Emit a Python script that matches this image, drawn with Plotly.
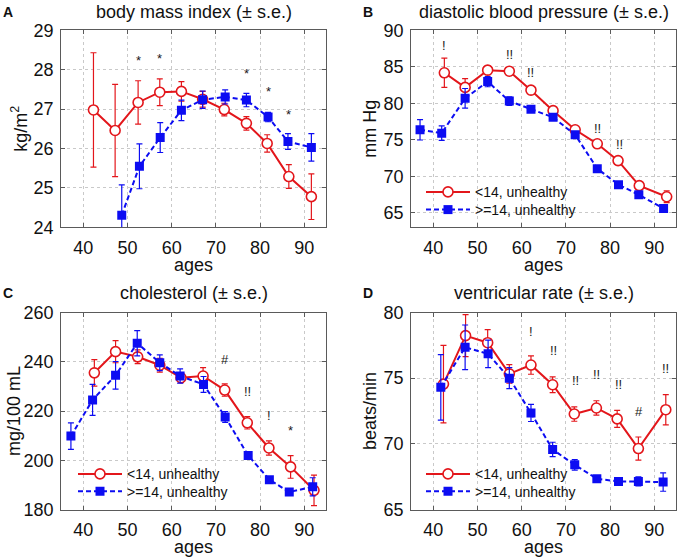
import plotly.graph_objects as go

RED = "#e3161b"
BLUE = "#0c0cf2"
FONT = "Liberation Sans, Arial, sans-serif"

# ---------------- data ----------------
# A: body mass index
bmi_age_lo = [42.3, 47.2, 52.4, 57.3, 62.2, 67.0, 71.9, 76.9, 81.6, 86.5, 91.6]
bmi_lo = [26.98, 26.46, 27.17, 27.43, 27.45, 27.25, 26.99, 26.64, 26.13, 25.29, 24.78]
bmi_lo_se = [1.45, 1.17, 0.55, 0.34, 0.25, 0.20, 0.16, 0.17, 0.22, 0.30, 0.58]
bmi_age_hi = [48.7, 52.7, 57.4, 62.2, 67.0, 72.1, 76.9, 81.8, 86.3, 91.6]
bmi_hi = [24.31, 25.55, 26.28, 26.97, 27.24, 27.31, 27.23, 26.80, 26.18, 26.03]
bmi_hi_se = [0.77, 0.57, 0.38, 0.26, 0.22, 0.18, 0.17, 0.12, 0.20, 0.35]
bmi_sig_x = [52.6, 57.3, 76.9, 81.8, 86.5]
bmi_sig_y = [28.30, 28.36, 27.98, 27.52, 26.94]
bmi_sig = ["*", "*", "*", "*", "*"]

# B: diastolic blood pressure
dbp_age_lo = [42.5, 47.2, 52.3, 57.2, 62.1, 67.1, 72.1, 77.1, 81.8, 86.6, 92.8]
dbp_lo = [84.18, 82.18, 84.54, 84.40, 81.80, 78.99, 76.37, 74.45, 72.15, 68.72, 67.20]
dbp_lo_se = [2.0, 1.2, 0.6, 0.3, 0.3, 0.3, 0.3, 0.3, 0.3, 0.4, 0.8]
dbp_age_hi = [37.0, 41.9, 47.2, 52.3, 57.2, 62.1, 67.1, 72.1, 77.1, 81.9, 86.5, 92.1]
dbp_hi = [76.37, 75.91, 80.68, 82.97, 80.30, 79.20, 78.08, 75.68, 71.05, 68.85, 67.47, 65.60]
dbp_hi_se = [1.4, 1.0, 1.35, 0.7, 0.6, 0.3, 0.3, 0.3, 0.3, 0.3, 0.3, 0.4]
dbp_sig_x = [42.5, 57.2, 62.1, 77.1, 82.1]
dbp_sig_y = [87.97, 86.70, 84.20, 76.60, 74.30]
dbp_sig = ["!", "!!", "!!", "!!", "!!"]

# C: cholesterol
chol_age_lo = [42.5, 47.3, 52.3, 57.3, 62.1, 67.1, 72.0, 77.1, 82.0, 86.9, 92.2]
chol_lo = [235.5, 244.1, 242.0, 238.6, 233.5, 234.2, 228.5, 215.2, 205.0, 197.3, 187.8]
chol_lo_se = [5.4, 4.5, 2.8, 2.8, 2.0, 3.4, 2.5, 2.5, 2.9, 4.6, 6.2]
chol_age_hi = [37.2, 42.1, 47.3, 52.2, 57.3, 61.9, 67.2, 72.1, 77.3, 82.1, 86.6, 91.9]
chol_hi = [209.8, 224.5, 234.5, 247.5, 239.6, 234.2, 230.8, 217.6, 201.9, 192.1, 187.1, 189.2]
chol_hi_se = [5.4, 6.3, 5.6, 5.1, 3.2, 2.9, 3.2, 2.2, 1.2, 1.0, 1.0, 3.7]
chol_sig_x = [72.1, 77.1, 82.1, 86.9]
chol_sig_y = [240.9, 228.1, 218.3, 213.2]
chol_sig = ["#", "!!", "!", "*"]

# D: ventricular rate
vr_age_lo = [42.3, 47.3, 52.3, 57.2, 62.1, 67.0, 71.9, 76.9, 81.6, 86.4, 92.6]
vr_lo = [74.55, 78.24, 77.70, 75.33, 76.00, 74.50, 72.27, 72.73, 71.90, 69.64, 72.60]
vr_lo_se = [2.95, 1.6, 1.0, 0.7, 0.7, 0.6, 0.55, 0.55, 0.65, 0.88, 1.15]
vr_age_hi = [41.7, 47.2, 52.4, 57.2, 62.1, 67.0, 72.0, 77.0, 81.9, 86.4, 92.0]
vr_hi = [74.30, 77.35, 76.85, 75.00, 72.35, 69.57, 68.40, 67.34, 67.14, 67.14, 67.09]
vr_hi_se = [2.5, 1.7, 1.05, 0.8, 0.65, 0.55, 0.4, 0.25, 0.25, 0.35, 0.7]
vr_sig_x = [62.1, 67.1, 72.2, 77.0, 82.0, 86.6, 92.6]
vr_sig_y = [78.58, 77.07, 74.80, 75.25, 74.55, 72.50, 75.70]
vr_sig = ["!", "!!", "!!", "!!", "!!", "#", "!!"]

series_names = ["<14, unhealthy", ">=14, unhealthy"]
x_ticks = [40, 50, 60, 70, 80, 90]

W, H = 679, 559

# legend placement per panel: (left px of line sample, row centre px for each series)
panels = [
    dict(key="A", title="body mass index (\u00b1 s.e.)", ylabel="kg/m<sup>2</sup>",
         yrange=[24, 29], tick0=24, dtick=1,
         lo=(bmi_age_lo, bmi_lo, bmi_lo_se), hi=(bmi_age_hi, bmi_hi, bmi_hi_se),
         sig=(bmi_sig_x, bmi_sig_y, bmi_sig), legpos=None),
    dict(key="B", title="diastolic blood pressure (\u00b1 s.e.)", ylabel="mm Hg",
         yrange=[63, 90], tick0=65, dtick=5,
         lo=(dbp_age_lo, dbp_lo, dbp_lo_se), hi=(dbp_age_hi, dbp_hi, dbp_hi_se),
         sig=(dbp_sig_x, dbp_sig_y, dbp_sig), legpos=(425, (192.3, 210.0))),
    dict(key="C", title="cholesterol (\u00b1 s.e.)", ylabel="mg/100 mL",
         yrange=[180, 260], tick0=180, dtick=20,
         lo=(chol_age_lo, chol_lo, chol_lo_se), hi=(chol_age_hi, chol_hi, chol_hi_se),
         sig=(chol_sig_x, chol_sig_y, chol_sig), legpos=(77, (474.3, 491.7))),
    dict(key="D", title="ventricular rate (\u00b1 s.e.)", ylabel="beats/min",
         yrange=[65, 80], tick0=65, dtick=5,
         lo=(vr_age_lo, vr_lo, vr_lo_se), hi=(vr_age_hi, vr_hi, vr_hi_se),
         sig=(vr_sig_x, vr_sig_y, vr_sig), legpos=(425, (474.3, 491.7))),
]

col_x = [(61.2 / W, 326.4 / W), (411.2 / W, 676.4 / W)]
row_y = [(1 - 227.4 / H, 1 - 30.3 / H), (1 - 509.5 / H, 1 - 312.5 / H)]

fig = go.Figure()
annotations = []
layout = {}
legend_count = 0

legend_style = dict(bgcolor="rgba(0,0,0,0)", borderwidth=0, itemwidth=44,
                    font=dict(family=FONT, size=14, color="#111"),
                    xanchor="left", yanchor="middle", tracegroupgap=0)

for i, p in enumerate(panels):
    r, c = divmod(i, 2)
    n = "" if i == 0 else str(i + 1)
    xa, ya = "x" + n, "y" + n
    xdom, ydom = col_x[c], row_y[r]

    axis_common = dict(
        showline=True, linecolor="#5a5a5a", linewidth=1, mirror="ticks",
        ticks="inside", ticklen=4, tickcolor="#5a5a5a",
        showgrid=True, gridcolor="#c9c9c9", griddash="dot", gridwidth=1,
        zeroline=False, automargin=False,
        tickfont=dict(family=FONT, size=18, color="#111"),
    )
    layout["xaxis" + n] = dict(axis_common, domain=list(xdom), range=[35, 95],
                               tickvals=x_ticks, anchor=ya, ticklabelstandoff=4)
    layout["yaxis" + n] = dict(axis_common, domain=list(ydom), range=p["yrange"],
                               tick0=p["tick0"], dtick=p["dtick"], anchor=xa,
                               ticklabelstandoff=3)

    legs = [None, None]
    if p["legpos"] is not None:
        lx, rows = p["legpos"]
        for k in range(2):
            legend_count += 1
            lname = "legend" if legend_count == 1 else "legend%d" % legend_count
            layout[lname] = dict(legend_style, x=(lx - 4) / W, y=1 - rows[k] / H)
            legs[k] = lname

    ax_lo, y_lo, e_lo = p["lo"]
    ax_hi, y_hi, e_hi = p["hi"]
    fig.add_trace(go.Scatter(
        x=ax_lo, y=y_lo, xaxis=xa, yaxis=ya, mode="lines+markers",
        name=series_names[0], showlegend=legs[0] is not None, legend=legs[0] or "legend",
        line=dict(color=RED, width=2),
        marker=dict(symbol="circle", size=10, color="white", line=dict(color=RED, width=1.6)),
        error_y=dict(type="data", array=e_lo, visible=True, color=RED, thickness=1.2, width=3),
    ))
    fig.add_trace(go.Scatter(
        x=ax_hi, y=y_hi, xaxis=xa, yaxis=ya, mode="lines+markers",
        name=series_names[1], showlegend=legs[1] is not None, legend=legs[1] or "legend",
        line=dict(color=BLUE, width=2, dash="5px,3px"),
        marker=dict(symbol="square", size=9, color=BLUE, line=dict(color=BLUE, width=0)),
        error_y=dict(type="data", array=e_hi, visible=True, color=BLUE, thickness=1.2, width=3),
    ))

    sx, sy, st = p["sig"]
    for xv, yv, tv in zip(sx, sy, st):
        annotations.append(dict(x=xv, y=yv, xref=xa, yref=ya, text=tv, showarrow=False,
                                yshift=-3 if tv == "*" else 0,
                                font=dict(family=FONT, size=13, color="#1a1a1a")))

    xmid = (xdom[0] + xdom[1]) / 2
    ymid = (ydom[0] + ydom[1]) / 2
    top_px = 12 if r == 0 else 293
    annotations.append(dict(x=xmid, y=1 - top_px / H, xref="paper", yref="paper",
                            text=p["title"], showarrow=False, xanchor="center", yanchor="middle",
                            font=dict(family=FONT, size=18, color="#111")))
    annotations.append(dict(x=(8 if c == 0 else 368) / W, y=1 - top_px / H, xref="paper", yref="paper",
                            text="<b>%s</b>" % p["key"], showarrow=False, xanchor="center", yanchor="middle",
                            font=dict(family=FONT, size=14, color="#111")))
    annotations.append(dict(x=xmid, y=1 - (265 if r == 0 else 546.5) / H, xref="paper", yref="paper",
                            text="ages", showarrow=False, xanchor="center", yanchor="middle",
                            font=dict(family=FONT, size=18, color="#111")))
    ylab_px = [20, 370][c] if i != 2 else 14
    annotations.append(dict(x=ylab_px / W, y=ymid, xref="paper", yref="paper",
                            text=p["ylabel"], showarrow=False, textangle=-90,
                            xanchor="center", yanchor="middle",
                            font=dict(family=FONT, size=18, color="#111")))

fig.update_layout(
    width=W, height=H, margin=dict(l=0, r=0, t=0, b=0, autoexpand=False),
    paper_bgcolor="white", plot_bgcolor="white",
    annotations=annotations, **layout,
)

fig.write_html(
    "out.html",
    config={"displayModeBar": False},
    post_script="document.body.style.margin='0';document.body.style.overflow='hidden';",
)
